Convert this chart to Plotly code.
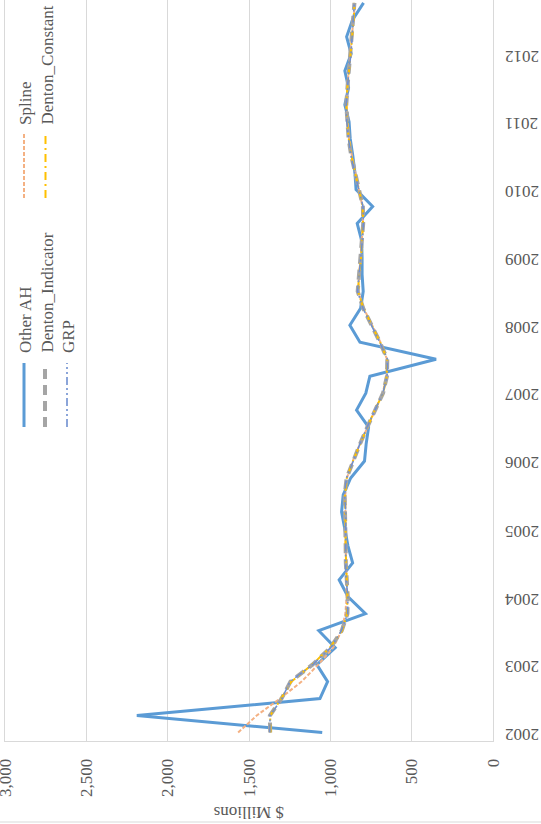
import plotly.graph_objects as go

# ---------------- data ----------------
years = [2002, 2003, 2004, 2005, 2006, 2007, 2008, 2009, 2010, 2011, 2012]
quarters = [f"{y}Q{q}" for y in years for q in (1, 2, 3, 4)]
year_ticks = [f"{y}Q1" for y in years]
year_labels = [str(y) for y in years]

value_ticks = [0, 500, 1000, 1500, 2000, 2500, 3000]
value_labels = ["0", "500", "1,000", "1,500", "2,000", "2,500", "3,000"]

other_ah = [1050, 2190, 1064, 1017, 1083, 970, 1071, 784, 891, 946, 863, 892,
            911, 931, 921, 875, 790, 780, 765, 839, 782, 757, 350, 818,
            880, 814, 798, 805, 805, 808, 835, 740, 842, 849, 862, 878,
            885, 911, 888, 911, 872, 900, 864, 796]

spline = [1567, 1453, 1310, 1177, 1075, 983, 931, 908, 900, 900, 903, 906,
          907, 907, 908, 898, 862, 818, 772, 724, 678, 655, 652, 692,
          744, 795, 828, 824, 813, 805, 800, 803, 824, 848, 868, 884,
          895, 900, 896, 888, 878, 868, 858, 848]

denton_indicator = [1370, 1372, 1300, 1245, 1110, 1000, 930, 895, 893, 902, 905, 906,
                    907, 906, 912, 900, 860, 818, 773, 726, 676, 652, 650, 695,
                    746, 798, 832, 822, 812, 804, 798, 800, 825, 850, 872, 888,
                    898, 902, 895, 886, 874, 866, 858, 852]

denton_constant = [1368, 1370, 1302, 1240, 1112, 1003, 928, 897, 895, 900, 904, 907,
                   906, 907, 910, 899, 861, 817, 772, 727, 675, 653, 651, 694,
                   745, 797, 830, 823, 811, 805, 799, 801, 824, 849, 871, 887,
                   897, 901, 896, 885, 875, 865, 857, 851]

grp = [1372, 1371, 1298, 1248, 1108, 998, 932, 894, 892, 903, 906, 905,
       908, 905, 913, 901, 859, 819, 774, 725, 677, 651, 649, 696,
       747, 799, 833, 821, 813, 803, 797, 799, 826, 851, 873, 889,
       899, 903, 894, 887, 873, 867, 859, 853]

series = [
    ("Other AH", other_ah, dict(color="#5B9BD5", width=3, dash="solid")),
    ("Spline", spline, dict(color="#F4B183", width=2, dash="4px,2px")),
    ("Denton_Indicator", denton_indicator, dict(color="#A5A5A5", width=4, dash="10px,6px")),
    ("Denton_Constant", denton_constant, dict(color="#FFC000", width=2, dash="8px,4px,2px,4px")),
    ("GRP", grp, dict(color="#6F8FD0", width=1.6, dash="8px,3px,2px,3px,2px,3px")),
]

# ---------------- figure ----------------
W, H = 541, 824
L, R, T, B = 5, 48, 0, 83
PW, PH = W - L - R, H - T - B

fig = go.Figure()
for name, vals, line in series:
    fig.add_trace(go.Scatter(x=vals, y=quarters, mode="lines", name=name,
                             line=line, showlegend=False, hoverinfo="skip"))

font_family = "Liberation Serif"
txt_color = "#595959"
tfont = dict(family=font_family, size=17, color=txt_color)

fig.update_layout(
    width=W, height=H,
    margin=dict(l=L, r=R, t=T, b=B, pad=0, autoexpand=False),
    paper_bgcolor="white", plot_bgcolor="white",
    font=tfont,
    xaxis=dict(range=[3000.5, 0], tickvals=value_ticks, ticktext=value_labels,
               tickangle=-90, showgrid=True, gridcolor="#D9D9D9", gridwidth=1,
               zeroline=False, showline=True, linecolor="#D9D9D9", linewidth=1,
               ticks="", ticklabelstandoff=10, automargin=False,
               ticklabeloverflow="allow", tickfont=tfont, fixedrange=True),
    yaxis=dict(type="category", categoryarray=quarters, range=[-0.5, 43.17],
               side="right", tickvals=year_ticks, showticklabels=False,
               showgrid=False, zeroline=False, showline=True, mirror=True,
               linecolor="#D9D9D9", linewidth=1, ticks="", automargin=False,
               fixedrange=True),
)


def px_x(px):
    return (px - L) / PW


def px_y(py):
    return (H - B - py) / PH


annotations = [
    dict(text="$ Millions", textangle=180, x=px_x(249), y=px_y(813),
         xref="paper", yref="paper", showarrow=False, xanchor="center",
         yanchor="middle", font=tfont),
]
# upside-down year labels of the category axis
for cat, lab in zip(year_ticks, year_labels):
    annotations.append(dict(text=lab, textangle=180, x=px_x(522), y=cat,
                            xref="paper", yref="y", yshift=-2, showarrow=False,
                            xanchor="center", yanchor="middle", font=tfont))

shapes = [
    dict(type="line", xref="paper", yref="paper", x0=px_x(0), x1=px_x(541),
         y0=px_y(822), y1=px_y(822), line=dict(color="#D9D9D9", width=1)),
]

# custom (rotated) legend
legend_items = [
    ("Other AH", 24, 363, 427, 355),
    ("Denton_Indicator", 45, 363, 427, 355),
    ("GRP", 67, 363, 427, 355),
    ("Spline", 24, 133, 198, 127),
    ("Denton_Constant", 45.5, 133, 198, 127),
]
style = {n: ln for n, _, ln in series}
for name, cx, y0, y1, tb in legend_items:
    ln = style[name]
    shapes.append(dict(type="line", xref="paper", yref="paper",
                       x0=px_x(cx), x1=px_x(cx), y0=px_y(y1), y1=px_y(y0),
                       line=dict(color=ln["color"], width=ln["width"], dash=ln["dash"])))
    annotations.append(dict(text=name, textangle=-90, x=px_x(cx + 1.5), y=px_y(tb),
                            xref="paper", yref="paper", showarrow=False,
                            xanchor="center", yanchor="bottom", font=tfont))

fig.update_layout(annotations=annotations, shapes=shapes)

fig.write_html("out.html", config={"displayModeBar": False, "staticPlot": False},
               post_script="document.body.style.margin='0';document.body.style.padding='0';")
